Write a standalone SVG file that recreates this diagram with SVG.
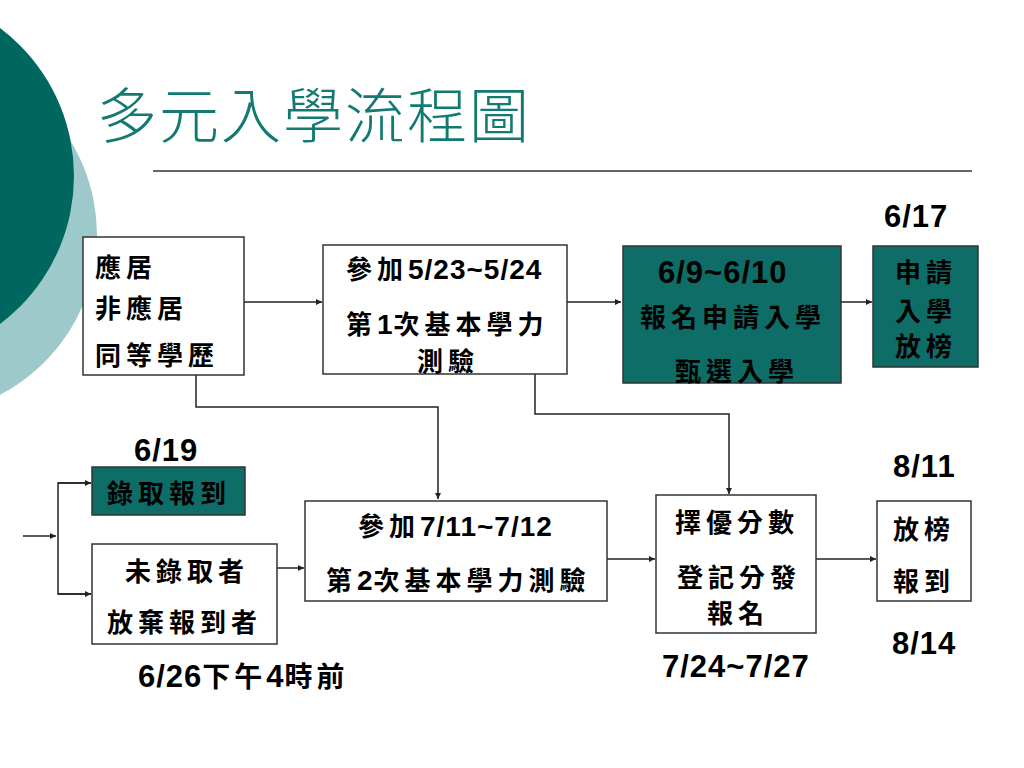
<svg xmlns="http://www.w3.org/2000/svg" width="1024" height="768" viewBox="0 0 1024 768">
<style>
.box{fill:#fff;stroke:#333;stroke-width:1.5}
.tbox{fill:#0F6D67;stroke:#333;stroke-width:1.5}
.cj{font-family:"Noto Sans CJK TC","Noto Sans CJK SC",sans-serif;font-weight:700;font-size:26px;letter-spacing:5px;fill:#000}
.n{font-family:"Liberation Sans",Arial,sans-serif;font-weight:bold;font-size:28px;letter-spacing:1px}
.date{font-family:"Liberation Sans",Arial,sans-serif;font-weight:bold;font-size:31px;fill:#000;letter-spacing:1px}
.conn{fill:none;stroke:#222;stroke-width:1.5}
</style>
<defs>
<marker id="ah" viewBox="0 0 10 10" refX="10" refY="5" markerWidth="6" markerHeight="6" markerUnits="userSpaceOnUse" orient="auto">
<path d="M0,0 L10,5 L0,10 z" fill="#222"/>
</marker>
</defs>
<rect width="1024" height="768" fill="#fff"/>
<g id="decor">
<circle cx="-83" cy="235" r="180" fill="#9DC9CA"/>
<circle cx="-111" cy="176" r="185" fill="#006660"/>
<text x="97" y="138" font-family="Noto Sans CJK TC, sans-serif" font-weight="300" font-size="60" letter-spacing="2" fill="#127A70">多元入學流程圖</text>
<line x1="153" y1="171" x2="972" y2="171" stroke="#333" stroke-width="1.5"/>
</g>
<g id="connectors">
<path class="conn" d="M244,302 H322" marker-end="url(#ah)"/>
<path class="conn" d="M567,302 H621" marker-end="url(#ah)"/>
<path class="conn" d="M841,302 H872" marker-end="url(#ah)"/>
<path class="conn" d="M196,375 V407 H438 V499" marker-end="url(#ah)"/>
<path class="conn" d="M535,374 V414 H729 V494" marker-end="url(#ah)"/>
<path class="conn" d="M23,536 H56" marker-end="url(#ah)"/>
<path class="conn" d="M91,483 H58 V594 H91"/>
<path class="conn" d="M58,483 H91" marker-end="url(#ah)"/>
<path class="conn" d="M58,594 H91" marker-end="url(#ah)"/>
<path class="conn" d="M277,568 H304" marker-end="url(#ah)"/>
<path class="conn" d="M607,559 H655" marker-end="url(#ah)"/>
<path class="conn" d="M816,559 H876" marker-end="url(#ah)"/>
</g>
<g id="n-eligibility">
<rect class="box" x="83" y="237" width="161" height="138"/>
<text class="cj" x="95" y="277">應居</text>
<text class="cj" x="95" y="318">非應居</text>
<text class="cj" x="95" y="365">同等學歷</text>
</g>
<g id="n-test1">
<rect class="box" x="323" y="245" width="244" height="129"/>
<text class="cj" x="346" y="279">參加<tspan class="n">5/23~5/24</tspan></text>
<text class="cj" x="346" y="334">第<tspan class="n" letter-spacing="4">1</tspan>次基本學力</text>
<text class="cj" x="417" y="371">測驗</text>
</g>
<g id="n-apply">
<rect class="tbox" x="623" y="246" width="218" height="137"/>
<text class="date" x="658" y="283">6/9~6/10</text>
<text class="cj" x="640" y="327">報名申請入學</text>
<text class="cj" x="675" y="381">甄選入學</text>
</g>
<g id="n-apply-result">
<rect class="tbox" x="873" y="246" width="105" height="121"/>
<text class="cj" x="895" y="282" letter-spacing="9">申請</text>
<text class="cj" x="895" y="321" letter-spacing="9">入學</text>
<text class="cj" x="895" y="356" letter-spacing="9">放榜</text>
<text class="date" x="884" y="227">6/17</text>
</g>
<g id="n-admitted">
<text class="date" x="134" y="461">6/19</text>
<rect class="tbox" x="92" y="467" width="153" height="48"/>
<text class="cj" x="107" y="503">錄取報到</text>
</g>
<g id="n-not-admitted">
<rect class="box" x="92" y="544" width="185" height="100"/>
<text class="cj" x="125" y="581">未錄取者</text>
<text class="cj" x="107" y="632" letter-spacing="6">放棄報到者</text>
<text class="date" x="138" y="687">6/26<tspan font-family="Noto Sans CJK TC, sans-serif" font-weight="700" font-size="28" letter-spacing="4">下午</tspan>4<tspan font-family="Noto Sans CJK TC, sans-serif" font-weight="700" font-size="28" letter-spacing="4">時前</tspan></text>
</g>
<g id="n-test2">
<rect class="box" x="305" y="501" width="302" height="100"/>
<text class="cj" x="358" y="536">參加<tspan class="n">7/11~7/12</tspan></text>
<text class="cj" x="326" y="590">第<tspan class="n" letter-spacing="4">2</tspan>次基本學力測驗</text>
</g>
<g id="n-distribution">
<rect class="box" x="656" y="495" width="160" height="138"/>
<text class="cj" x="675" y="532">擇優分數</text>
<text class="cj" x="677" y="587">登記分發</text>
<text class="cj" x="707" y="623">報名</text>
<text class="date" x="662" y="677">7/24~7/27</text>
</g>
<g id="n-result">
<text class="date" x="893" y="477">8/11</text>
<rect class="box" x="877" y="501" width="94" height="100"/>
<text class="cj" x="893" y="539" letter-spacing="7">放榜</text>
<text class="cj" x="893" y="591" letter-spacing="7">報到</text>
<text class="date" x="892" y="654">8/14</text>
</g>
</svg>
